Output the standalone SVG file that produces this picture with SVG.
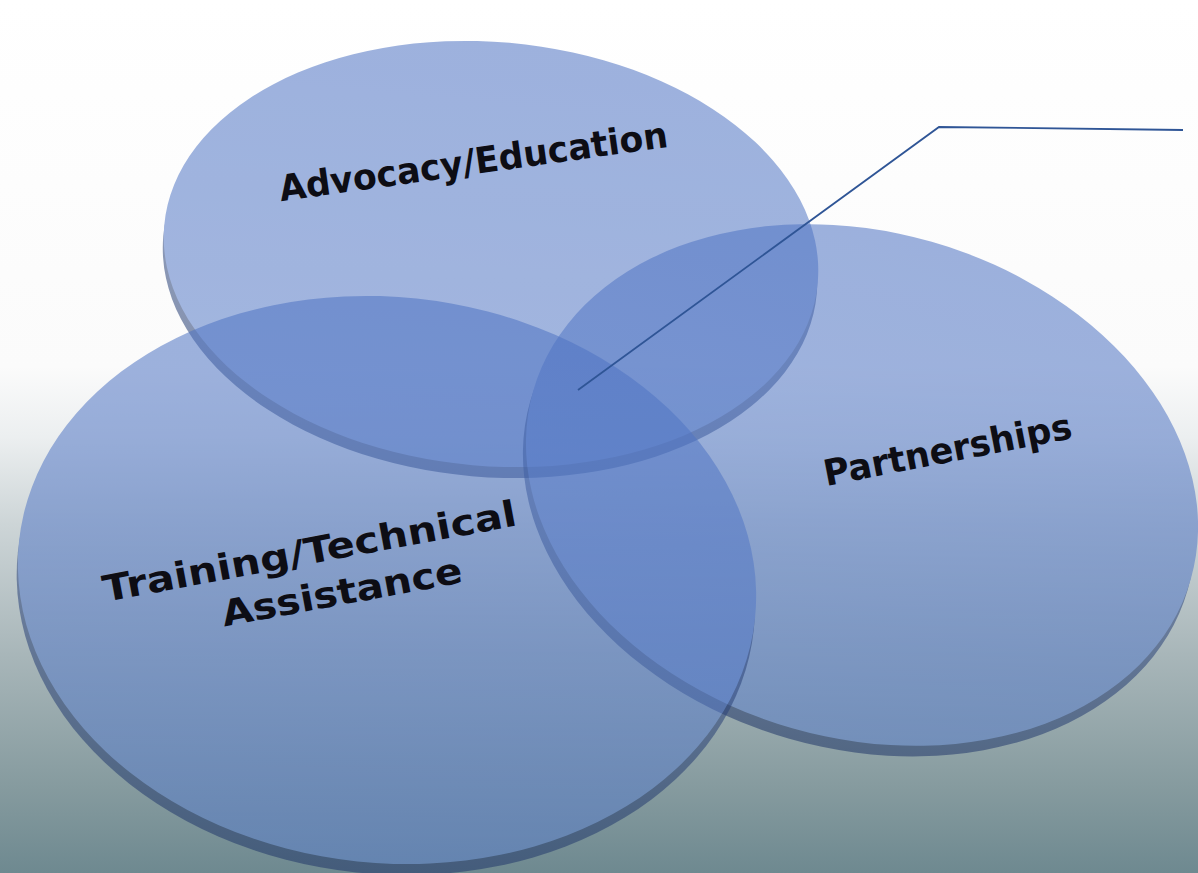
<svg xmlns="http://www.w3.org/2000/svg" width="1198" height="873" viewBox="0 0 1198 873">
  <defs>
    <linearGradient id="bg" x1="0" y1="0" x2="0" y2="873" gradientUnits="userSpaceOnUse">
      <stop offset="0" stop-color="#ffffff"/>
      <stop offset="0.42" stop-color="#fbfbfb"/>
      <stop offset="0.5" stop-color="#eceff0"/>
      <stop offset="0.6" stop-color="#cdd5d7"/>
      <stop offset="0.75" stop-color="#a8b6b9"/>
      <stop offset="0.9" stop-color="#869b9f"/>
      <stop offset="1" stop-color="#6e8990"/>
    </linearGradient>
    <linearGradient id="face" x1="0" y1="0" x2="0" y2="1">
      <stop offset="0" stop-color="#4e73c3"/>
      <stop offset="1" stop-color="#5c80ca"/>
    </linearGradient>
    <linearGradient id="rim" x1="0" y1="0" x2="0" y2="1">
      <stop offset="0" stop-color="#3a5592"/>
      <stop offset="1" stop-color="#22386a"/>
    </linearGradient>
  </defs>
  <style>
    .disc { opacity: 0.55; }
    .face { fill: url(#face); }
    .rim { fill: url(#rim); }
    .label { font-family: "DejaVu Sans", Verdana, sans-serif; font-weight: bold; font-size: 36px; fill: #0d0d14; text-anchor: middle; }
    .callout { fill: none; stroke: #2f5596; stroke-width: 1.8; }
  </style>
  <rect x="0" y="0" width="1198" height="873" fill="url(#bg)"/>

  <g id="node-advocacy">
    <g class="disc" transform="rotate(5 491 254)">
      <ellipse class="rim" cx="491" cy="265" rx="328" ry="212"/>
      <ellipse class="face" cx="491" cy="254" rx="328" ry="212"/>
    </g>
    <text class="label" x="475" y="174" transform="rotate(-8 475 174)" textLength="392" lengthAdjust="spacingAndGlyphs">Advocacy/Education</text>
  </g>

  <g id="node-partnerships">
    <g class="disc" transform="rotate(16 862 485)">
      <ellipse class="rim" cx="862" cy="496" rx="342" ry="253"/>
      <ellipse class="face" cx="862" cy="485" rx="342" ry="253"/>
    </g>
    <text class="label" x="950" y="462" transform="rotate(-11 950 462)" textLength="252" lengthAdjust="spacingAndGlyphs">Partnerships</text>
  </g>

  <g id="node-training">
    <g class="disc" transform="rotate(6 387 580)">
      <ellipse class="rim" cx="387" cy="591" rx="370" ry="283"/>
      <ellipse class="face" cx="387" cy="580" rx="370" ry="283"/>
    </g>
    <text class="label" transform="rotate(-10.5 320 562)">
      <tspan x="318" y="562" textLength="420" lengthAdjust="spacingAndGlyphs">Training/Technical</tspan>
      <tspan x="336" y="608" textLength="244" lengthAdjust="spacingAndGlyphs">Assistance</tspan>
    </text>
  </g>

  <g id="connectors">
    <polyline class="callout" points="578,390 939,127 1183,130"/>
  </g>
</svg>
